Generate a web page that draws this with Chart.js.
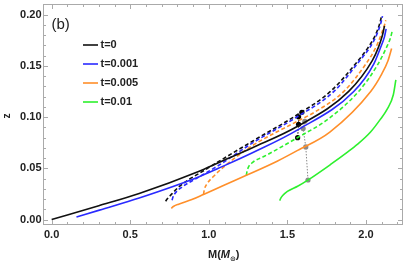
<!DOCTYPE html>
<html>
<head>
<meta charset="utf-8">
<script src="https://cdn.jsdelivr.net/npm/chart.js@4.4.1/dist/chart.umd.min.js"></script>
<style>
  html, body { margin: 0; padding: 0; background: #fff; }
  #wrap { width: 407px; height: 262px; }
</style>
</head>
<body>
<div id="wrap"><canvas id="c" width="407" height="262"></canvas></div>
<script>
// ---- datos: M (masas solares) y z (corrimiento al rojo) ----
const t0SolidM = [0, 0.30, 0.557, 0.935, 1.061, 1.281, 1.565, 1.89, 2.04, 2.079, 2.105, 2.118];
const t0SolidZ = [0, 0.0135, 0.0255, 0.047, 0.0555, 0.0703, 0.091, 0.125, 0.155, 0.168, 0.180, 0.189];

const t0DashM = [0.725, 0.735, 0.756, 0.808, 0.871, 0.934, 1.061, 1.281, 1.565, 1.774, 1.95, 2.016, 2.06, 2.09, 2.100];
const t0DashZ = [0.0179, 0.0200, 0.0236, 0.0317, 0.0388, 0.0446, 0.0565, 0.0767, 0.1025, 0.125, 0.155, 0.1684, 0.180, 0.1926, 0.1996];

const t1SolidM = [0.158, 0.304, 0.557, 0.935, 1.061, 1.281, 1.565, 1.922, 2.05, 2.094, 2.117, 2.128];
const t1SolidZ = [0.0024, 0.0092, 0.021, 0.0415, 0.050, 0.0654, 0.0875, 0.125, 0.152, 0.1684, 0.178, 0.186];

const t1DashM = [0.766, 0.771, 0.78, 0.829, 0.914, 0.998, 1.061, 1.281, 1.565, 1.796, 1.96, 2.027, 2.07, 2.095, 2.105];
const t1DashZ = [0.0188, 0.0215, 0.0245, 0.0317, 0.0395, 0.047, 0.0527, 0.075, 0.1005, 0.125, 0.155, 0.1684, 0.181, 0.192, 0.1985];

const t5SolidM = [0.762, 0.768, 0.777, 0.808, 0.892, 0.966, 1.10, 1.239, 1.438, 1.565, 1.77, 2.03, 2.10, 2.14, 2.163];
const t5SolidZ = [0.0108, 0.012, 0.013, 0.015, 0.0195, 0.0245, 0.0338, 0.0432, 0.0572, 0.0675, 0.0854, 0.125, 0.142, 0.155, 0.1668];

const t5DashM = [0.966, 0.972, 0.987, 1.029, 1.144, 1.281, 1.565, 1.67, 1.859, 2.0, 2.064, 2.10, 2.121, 2.126];
const t5DashZ = [0.0245, 0.0295, 0.0345, 0.042, 0.0575, 0.0725, 0.096, 0.1045, 0.125, 0.152, 0.1684, 0.182, 0.1915, 0.1945];

const t10SolidM = [1.451, 1.458, 1.47, 1.50, 1.565, 1.63, 1.777, 1.88, 1.945, 2.029, 2.09, 2.134, 2.174, 2.19];
const t10SolidZ = [0.0185, 0.021, 0.0235, 0.0275, 0.0325, 0.0385, 0.054, 0.0655, 0.0733, 0.0854, 0.0975, 0.1075, 0.1218, 0.1363];

const t10DashM = [1.239, 1.243, 1.25, 1.281, 1.35, 1.44, 1.565, 1.75, 1.953, 2.07, 2.132, 2.155, 2.168];
const t10DashZ = [0.0432, 0.047, 0.0505, 0.056, 0.0615, 0.069, 0.080, 0.097, 0.125, 0.150, 0.1684, 0.177, 0.1845];

// puntos marcados
const blackDotM = [1.592, 1.571, 1.571, 1.565];
const blackDotZ = [0.1047, 0.1002, 0.093, 0.0799];
const grayDotM = [1.611, 1.600, 1.617, 1.631];
const grayDotZ = [0.0958, 0.0888, 0.0709, 0.0386];

const legendLabels = ["t=0", "t=0.001", "t=0.005", "t=0.01"];
const xTicks = [0, 0.5, 1.0, 1.5, 2.0];
const yTicks = [0, 0.05, 0.10, 0.15, 0.20];

const C_BLACK = "#111111", C_BLUE = "#2a2aff", C_ORANGE = "#ff8f2a", C_GREEN = "#2ef02e";

const pts = (m, z) => m.map((v, i) => ({ x: v, y: z[i] }));

function curva(m, z, color, dashed) {
  return {
    data: pts(m, z),
    borderColor: color,
    borderWidth: 1.6,
    borderDash: dashed ? [4, 2.5] : [],
    pointRadius: 0,
    fill: false,
    cubicInterpolationMode: "monotone",
  };
}

function puntos(m, z, color) {
  return {
    data: pts(m, z),
    borderColor: color,
    borderWidth: 1,
    borderDash: [1.5, 1.5],
    pointRadius: 2.6,
    pointBackgroundColor: color,
    pointBorderWidth: 0,
    fill: false,
    tension: 0,
  };
}

// ── marco, ticks, etiquetas y leyenda al estilo Mathematica ──
const marcoPlugin = {
  id: "marco",
  afterDraw(chart) {
    const { ctx, chartArea: a, scales: { x, y } } = chart;
    ctx.save();
    ctx.strokeStyle = "#aaaaaa";
    ctx.lineWidth = 1;
    ctx.strokeRect(a.left + 0.5, a.top + 0.5, a.right - a.left - 1, a.bottom - a.top - 1);

    ctx.beginPath();
    for (let i = 0; i <= 22; i++) {
      const px = Math.round(x.getPixelForValue(i / 10)) + 0.5;
      const len = i % 5 === 0 ? 5 : 3;
      ctx.moveTo(px, a.bottom); ctx.lineTo(px, a.bottom - len);
      ctx.moveTo(px, a.top); ctx.lineTo(px, a.top + len);
    }
    for (let i = 0; i <= 21; i++) {
      const py = Math.round(y.getPixelForValue(i / 100)) + 0.5;
      const len = i % 5 === 0 ? 5 : 3;
      ctx.moveTo(a.left, py); ctx.lineTo(a.left + len, py);
      ctx.moveTo(a.right, py); ctx.lineTo(a.right - len, py);
    }
    ctx.stroke();

    ctx.fillStyle = "#222";
    ctx.font = "bold 11px 'Liberation Sans', Arial, sans-serif";
    ctx.textAlign = "center";
    ctx.textBaseline = "middle";
    xTicks.forEach(v => ctx.fillText(v.toFixed(1), x.getPixelForValue(v), 235));
    ctx.textAlign = "right";
    yTicks.forEach(v => ctx.fillText(v.toFixed(2), 41.5, y.getPixelForValue(v)));

    // titulo eje y
    ctx.save();
    ctx.translate(7.5, 116);
    ctx.rotate(-Math.PI / 2);
    ctx.textAlign = "center";
    ctx.font = "bold 10px 'Liberation Sans', Arial, sans-serif";
    ctx.fillText("z", 0, 0);
    ctx.restore();

    // titulo eje x: M(M⊙)
    ctx.textAlign = "left";
    let cx = 208;
    const by = 255;
    ctx.font = "bold 11px 'Liberation Sans', Arial, sans-serif";
    ctx.fillText("M(", cx, by); cx += ctx.measureText("M(").width;
    ctx.font = "italic bold 11px 'Liberation Sans', Arial, sans-serif";
    ctx.fillText("M", cx, by); cx += ctx.measureText("M").width;
    ctx.font = "bold 7px 'DejaVu Sans', sans-serif";
    ctx.fillText("⊙", cx, by + 4); cx += ctx.measureText("⊙").width;
    ctx.font = "bold 11px 'Liberation Sans', Arial, sans-serif";
    ctx.fillText(")", cx, by);

    // etiqueta del panel
    ctx.font = "15px 'Liberation Sans', Arial, sans-serif";
    ctx.fillText("(b)", 51.5, 25);

    // leyenda
    const colores = [C_BLACK, C_BLUE, C_ORANGE, C_GREEN];
    ctx.font = "bold 11px 'Liberation Sans', Arial, sans-serif";
    legendLabels.forEach((lab, i) => {
      const ly = 45 + i * 19;
      ctx.strokeStyle = colores[i];
      ctx.lineWidth = 1.6;
      ctx.beginPath();
      ctx.moveTo(83, ly); ctx.lineTo(98, ly);
      ctx.stroke();
      ctx.fillStyle = "#222";
      ctx.fillText(lab, 100.5, ly);
    });
    ctx.restore();
  }
};

new Chart(document.getElementById("c"), {
  type: "line",
  data: {
    datasets: [
      curva(t0SolidM, t0SolidZ, C_BLACK, false),
      curva(t1SolidM, t1SolidZ, C_BLUE, false),
      curva(t5SolidM, t5SolidZ, C_ORANGE, false),
      curva(t10SolidM, t10SolidZ, C_GREEN, false),
      curva(t10DashM, t10DashZ, C_GREEN, true),
      curva(t5DashM, t5DashZ, C_ORANGE, true),
      curva(t1DashM, t1DashZ, C_BLUE, true),
      curva(t0DashM, t0DashZ, C_BLACK, true),
      puntos(grayDotM, grayDotZ, "#8a8a8a"),
      puntos(blackDotM, blackDotZ, "#000000"),
    ]
  },
  options: {
    responsive: false,
    animation: false,
    layout: { padding: { left: 43, right: 1, top: 1, bottom: 37 } },
    plugins: { legend: { display: false }, tooltip: { enabled: false } },
    scales: {
      x: { type: "linear", min: -0.055, max: 2.2355, display: false },
      y: { type: "linear", min: -0.0053, max: 0.2103, display: false }
    }
  },
  plugins: [marcoPlugin]
});
</script>
</body>
</html>
